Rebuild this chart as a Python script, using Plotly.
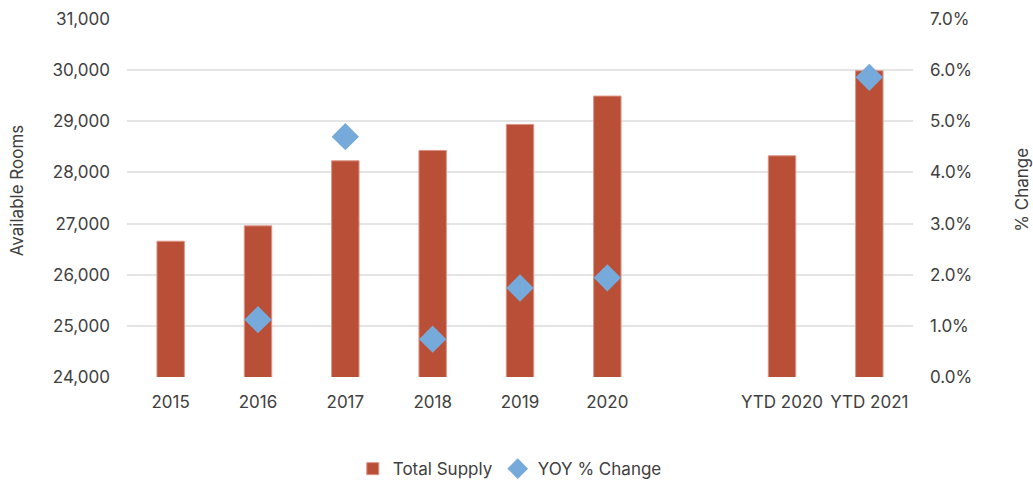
import plotly.graph_objects as go

categories = ["2015", "2016", "2017", "2018", "2019", "2020", " ", "YTD 2020", "YTD 2021"]
total_supply = [26655, 26955, 28227, 28430, 28939, 29493, None, 28325, 29988]
yoy_change = [None, 0.0112, 0.0470, 0.0074, 0.0174, 0.0194, None, None, 0.0586]

FONT = "Inter"
TXT = "#404040"
GRID = "#e4e4e4"
FS = 17

fig = go.Figure()
fig.add_trace(go.Bar(
    x=categories, y=total_supply, name="Total Supply",
    marker=dict(color="#BA4F37", line=dict(color="#dc9484", width=1)),
    yaxis="y",
))
fig.add_trace(go.Scatter(
    x=categories, y=yoy_change, name="YOY % Change", mode="markers",
    marker=dict(symbol="diamond", size=21, color="#76AADB"),
    yaxis="y2",
))

fig.update_layout(
    width=1033, height=483,
    margin=dict(l=127, r=120, t=19, b=106, autoexpand=False),
    paper_bgcolor="white", plot_bgcolor="white",
    font=dict(family=FONT, size=FS, color=TXT),
    bargap=0.686,
    showlegend=True,
    legend=dict(orientation="h", x=0.487, xanchor="center", y=-0.207, yanchor="top",
                font=dict(family=FONT, size=FS, color=TXT), itemwidth=30, tracegroupgap=0),
    xaxis=dict(type="category", categoryorder="array", categoryarray=categories,
               range=[-0.5, len(categories) - 0.5],
               showgrid=False, showline=False, zeroline=False, ticks="", automargin=False,
               ticklabelstandoff=13, tickfont=dict(family=FONT, size=FS, color=TXT)),
    yaxis=dict(range=[24000, 31000], dtick=1000, tickformat=",", showgrid=True,
               gridcolor=GRID, gridwidth=1.5, zeroline=False, showline=False, ticks="",
               automargin=False,
               ticklabelstandoff=16, tickfont=dict(family=FONT, size=FS, color=TXT)),
    yaxis2=dict(range=[0, 0.07], dtick=0.01, tickformat=".1%", overlaying="y", side="right",
                showgrid=False, zeroline=False, showline=False, ticks="", automargin=False,
                ticklabelstandoff=16, tickfont=dict(family=FONT, size=FS, color=TXT)),
)
fig.add_annotation(text="Available Rooms", textangle=-90, xref="paper", yref="paper",
                   x=-0.139, y=0.521, xanchor="center", yanchor="middle", showarrow=False,
                   font=dict(family=FONT, size=FS, color=TXT))
fig.add_annotation(text="% Change", textangle=-90, xref="paper", yref="paper",
                   x=1.139, y=0.524, xanchor="center", yanchor="middle", showarrow=False,
                   font=dict(family=FONT, size=FS, color=TXT))

fig.write_html("out.html", config={"displayModeBar": False},
               post_script="document.body.style.margin='0';document.body.style.overflow='hidden';")
